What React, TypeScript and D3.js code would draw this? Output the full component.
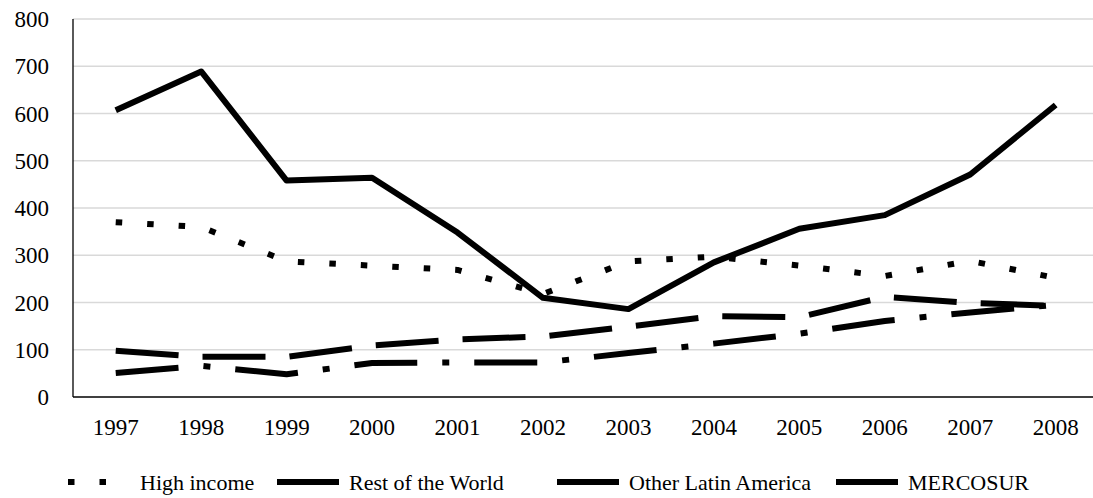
import React from "react";
import * as d3 from "d3";

const years = ["1997","1998","1999","2000","2001","2002","2003","2004","2005","2006","2007","2008"];
const highIncome = [370, 360, 287, 278, 269, 218, 287, 297, 278, 256, 288, 252];
const restOfWorld = [98, 85, 85, 109, 122, 128, 149, 171, 169, 212, 199, 193];
const otherLatAm = [51, 66, 48, 72, 73, 73, 93, 113, 134, 161, 179, 195];
const mercosur = [607, 689, 458, 464, 348, 210, 186, 285, 356, 385, 471, 618];
const yTicks = [0, 100, 200, 300, 400, 500, 600, 700, 800];

const seriesList = [
  { name: "High income", values: highIncome, dash: "6.5 25" },
  { name: "Rest of the World", values: restOfWorld, dash: "63 24" },
  { name: "Other Latin America", values: otherLatAm, dash: "63 25 7 25" },
  { name: "MERCOSUR", values: mercosur, dash: "none" },
];

const legendItems = [
  { name: "High income", dash: "6.5 25", x: 68 },
  { name: "Rest of the World", dash: "none", x: 277 },
  { name: "Other Latin America", dash: "none", x: 557 },
  { name: "MERCOSUR", dash: "none", x: 836 },
];

export default function App() {
  const W = 1093, H = 498;
  const left = 73, top = 19, bottom = 397;
  const step = 85.45;
  const x = d3.scaleBand().domain(years).range([left, left + step * years.length]).paddingInner(0).paddingOuter(0);
  const y = d3.scaleLinear().domain([0, 800]).range([bottom, top]);
  const cx = (yr: string) => (x(yr) as number) + x.bandwidth() / 2;
  const line = d3.line<number>().x((_, i) => cx(years[i])).y((v) => y(v)).curve(d3.curveLinear);
  const textStyle = { fontFamily: "Liberation Serif, DejaVu Serif, serif" };
  const right = left + step * years.length;
  return (
    <svg width={W} height={H} style={{ position: "absolute", left: 0, top: 0, background: "#fff" }}>
      <rect x={0} y={0} width={W} height={H} fill="#fff" />
      {yTicks.map((t) => (
        <g key={t}>
          {t > 0 && <line x1={left} x2={right} y1={y(t)} y2={y(t)} stroke="#d9d9d9" strokeWidth={1.3} />}
          <text x={49} y={y(t)} dy="0.35em" textAnchor="end" style={textStyle} fontSize={23} fill="#000">{t}</text>
        </g>
      ))}
      <line x1={left} x2={left} y1={top} y2={bottom} stroke="#000" strokeWidth={1.3} />
      <line x1={left} x2={right} y1={bottom} y2={bottom} stroke="#000" strokeWidth={1.3} />
      {years.map((yr) => (
        <text key={yr} x={cx(yr)} y={435} textAnchor="middle" style={textStyle} fontSize={23} fill="#000">{yr}</text>
      ))}
      {seriesList.map((s) => (
        <path key={s.name} d={line(s.values) || ""} fill="none" stroke="#000" strokeWidth={6}
          strokeDasharray={s.dash === "none" ? undefined : s.dash} strokeLinejoin="round" strokeLinecap="butt" />
      ))}
      {legendItems.map((l) => (
        <g key={l.name}>
          <line x1={l.x} x2={l.x + 62} y1={482} y2={482} stroke="#000" strokeWidth={6}
            strokeDasharray={l.dash === "none" ? undefined : l.dash} />
          <text x={l.x + 72} y={482} dy="0.35em" style={textStyle} fontSize={22} fill="#000">{l.name}</text>
        </g>
      ))}
    </svg>
  );
}
